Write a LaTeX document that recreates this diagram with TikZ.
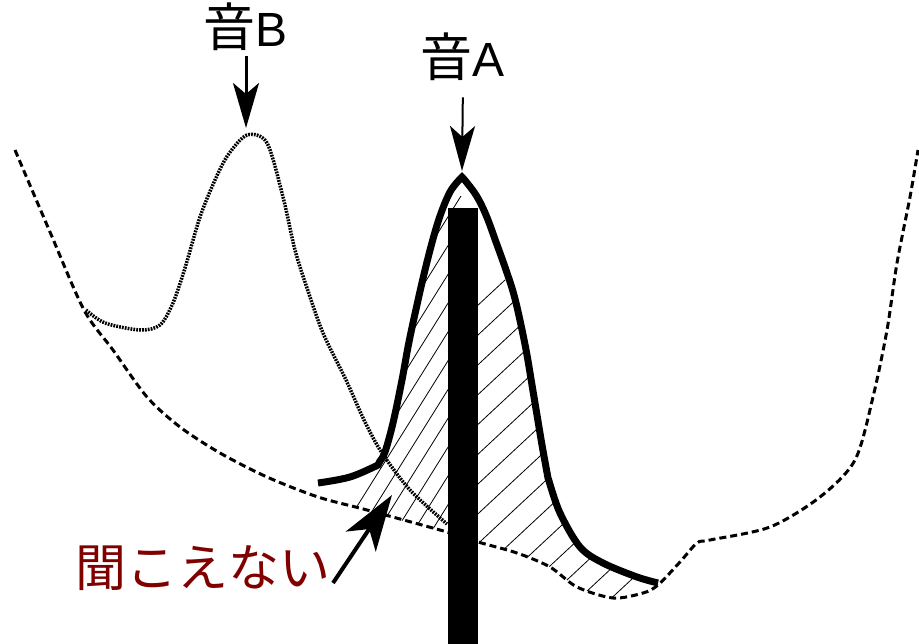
\documentclass[tikz,border=0pt]{standalone}
\usepackage{fontspec}
\setmainfont{Liberation Sans}
\newfontfamily\jp{Noto Sans CJK JP}
\usetikzlibrary{arrows.meta}
\definecolor{darkred}{RGB}{128,0,0}
\begin{document}
\begin{tikzpicture}[x=1pt,y=-1pt,
  curveA/.style={line width=7pt, line join=miter, miter limit=20},
  thresh/.style={line width=3pt, dash pattern=on 7pt off 4pt},
  maskB/.style={line width=3.5pt, dash pattern=on 1.8pt off 1.1pt},
  hatchline/.style={line width=0.8pt},
  toplbl/.style={inner sep=0pt, anchor=base, font=\fontsize{48}{52}\selectfont},
  redlbl/.style={inner sep=0pt, text=darkred, font=\jp\fontsize{51}{56}\selectfont},
  arrowB/.style={line width=3pt, -{Stealth[length=45pt,width=26pt,inset=11pt]}},
  arrowA/.style={line width=2pt, -{Stealth[length=45pt,width=25pt,inset=11pt]}},
  arrowN/.style={line width=4pt, -{Stealth[length=56pt,width=36pt,inset=15pt]}}
]
\useasboundingbox (0,0) rectangle (919,644);
\fill[white] (0,0) rectangle (919,644);

% hatching, left of bar
\begin{scope}
  \clip (300,150) rectangle (463,620);
  \clip plot[smooth,tension=0.55] coordinates {(378,465)(385,452)(393,423)(402,380)(410,337)(425,270)(438,222)(450,192)(462,177)}
    -- plot[smooth,tension=0.6] coordinates {(463,178)(476,195)(486,215)(496,242)(506,270)(514,295)(521,325)(527,355)(532,385)(537,415)(542,445)(548,478)}
    -- plot[smooth,tension=0.55] coordinates {(549,481)(560,513)(580,547)(603,563)(637,577)(658,583)}
    -- plot[smooth,tension=0.5] coordinates {(658,585)(643,593)(613,598)(577,587)(550,567)(517,553)(478,542)(447,532)(400,520)(355,506)} -- cycle;
  \foreach \c in {70,88,...,480} \draw[hatchline] (\c,620) -- ++(265,-424);
\end{scope}
% hatching, right of bar
\begin{scope}
  \clip (463,150) rectangle (700,620);
  \clip plot[smooth,tension=0.55] coordinates {(378,465)(385,452)(393,423)(402,380)(410,337)(425,270)(438,222)(450,192)(462,177)}
    -- plot[smooth,tension=0.6] coordinates {(463,178)(476,195)(486,215)(496,242)(506,270)(514,295)(521,325)(527,355)(532,385)(537,415)(542,445)(548,478)}
    -- plot[smooth,tension=0.55] coordinates {(549,481)(560,513)(580,547)(603,563)(637,577)(658,583)}
    -- plot[smooth,tension=0.5] coordinates {(658,585)(643,593)(613,598)(577,587)(550,567)(517,553)(478,542)(447,532)(400,520)(355,506)} -- cycle;
  \foreach \c in {-20,12,...,700} \draw[hatchline] (\c,620) -- ++(365,-340);
\end{scope}

% threshold in quiet (dashed)
\draw[thresh] plot[smooth,tension=0.5] coordinates {(15,150)(50,232)(84,310)(113,350)(147,397)(180,427)(220,453)(267,477)(318,497)(367,510)(447,532)(478,542)(517,553)(550,567)(577,587)(613,598)(643,593)(658,585)(680,562)(697,543)(710,540)(770,527)(820,497)(855,460)(873,397)(887,330)(897,263)(910,197)(918,150)};

% masking curve of sound B (dotted)
\draw[maskB] plot[smooth,tension=0.5] coordinates {(86,310)(105,323)(140,330)(160,325)(173,303)(185,268)(200,217)(215,180)(228,155)(247,135)(267,143)(283,197)(295,250)(307,288)(323,333)(346,380)(365,422)(382,453)(410,490)(447,524)};

% bar of sound A
\fill (448,208) rectangle (478,644);

% masking curve of sound A (thick)
\draw[curveA] plot[smooth,tension=0.6] coordinates {(318,483)(350,477)(378,465)}
  -- plot[smooth,tension=0.55] coordinates {(380,461)(385,452)(393,423)(402,380)(410,337)(425,270)(438,222)(450,192)(462,177)}
  -- plot[smooth,tension=0.6] coordinates {(463,178)(476,195)(486,215)(496,242)(506,270)(514,295)(521,325)(527,355)(532,385)(537,415)(542,445)(548,478)}
  -- plot[smooth,tension=0.55] coordinates {(549,481)(560,513)(580,547)(603,563)(637,577)(658,583)};

% labels and arrows
\node[toplbl] (lblB) at (246,47) {{\jp\fontsize{52}{56}\selectfont 音}B};
\coordinate (tipB) at (246,128);
\draw[arrowB, shorten <=5pt] (lblB.south) -- (tipB);

\node[toplbl] (lblA) at (463,77) {{\jp\fontsize{52}{56}\selectfont 音}A};
\coordinate (tipA) at (462,171);
\draw[arrowA, shorten <=16pt] (lblA.south) -- (tipA);

\node[redlbl] (lblN) at (203,568) {聞こえない};
\coordinate (tailN) at (333,583);
\coordinate (tipN) at (392,495);
\draw[arrowN] (tailN) -- (tipN);
\end{tikzpicture}
\end{document}
